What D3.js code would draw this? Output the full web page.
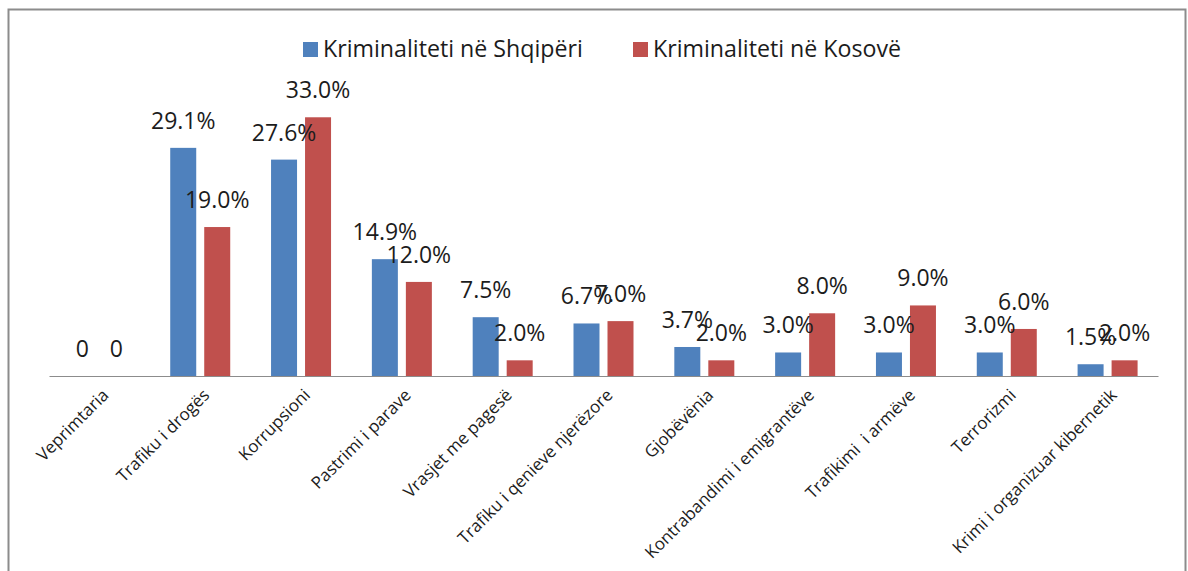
<!DOCTYPE html>
<html>
<head>
<meta charset="utf-8">
<script src="https://cdn.jsdelivr.net/npm/d3@7"></script>
<style>
  body { margin: 0; background: #fff; }
  svg { display: block; }
  text { font-family: "Open Sans", sans-serif; fill: #1c1c1c; white-space: pre; }
</style>
</head>
<body>
<svg id="chart" width="1188" height="571"></svg>
<script>
// Types of organised crime
const categories = [
  "Veprimtaria",
  "Trafiku i drogës",
  "Korrupsioni",
  "Pastrimi i parave",
  "Vrasjet me pagesë",
  "Trafiku i qenieve njerëzore",
  "Gjobëvënia",
  "Kontrabandimi i emigrantëve",
  "Trafikimi  i armëve",
  "Terrorizmi",
  "Krimi i organizuar kibernetik"
];
const seriesNames = ["Kriminaliteti në Shqipëri", "Kriminaliteti në Kosovë"];
// Share (%) per crime type
const albaniaValues = [0, 29.1, 27.6, 14.9, 7.5, 6.7, 3.7, 3.0, 3.0, 3.0, 1.5];
const kosovoValues  = [0, 19.0, 33.0, 12.0, 2.0, 7.0, 2.0, 8.0, 9.0, 6.0, 2.0];
const seriesColors = ["#4F81BD", "#C0504D"];
const yDomainMax = 35;

const svg = d3.select("#chart");
const plot = { left: 49, right: 1158, top: 101.6, bottom: 376 };

// outer frame
svg.append("rect")
  .attr("x", 8.5).attr("y", 9.5)
  .attr("width", 1177).attr("height", 620)
  .attr("fill", "#fff")
  .attr("stroke", "#8c8c8c")
  .attr("stroke-width", 2);

const rows = categories.map((c, i) => ({
  category: c,
  values: [albaniaValues[i], kosovoValues[i]]
}));

const x0 = d3.scaleBand().domain(categories).range([plot.left, plot.right]).padding(0);
const groupWidth = 60;
const x1 = d3.scaleBand().domain(d3.range(seriesNames.length))
  .range([0, groupWidth]).paddingInner(2 - groupWidth / 34).paddingOuter(0);
const y = d3.scaleLinear().domain([0, yDomainMax]).range([plot.bottom, plot.top]);
const groupOffset = (x0.bandwidth() - groupWidth) / 2;

const fmt = v => v === 0 ? "0" : d3.format(".1f")(v) + "%";

const groups = svg.append("g").selectAll("g")
  .data(rows).join("g")
  .attr("transform", d => `translate(${x0(d.category) + groupOffset},0)`);

groups.selectAll("rect")
  .data(d => d.values.map((v, s) => ({ v, s })))
  .join("rect")
  .attr("x", d => x1(d.s))
  .attr("width", x1.bandwidth())
  .attr("y", d => y(d.v))
  .attr("height", d => y(0) - y(d.v))
  .attr("fill", d => seriesColors[d.s]);

// category axis
const axis = svg.append("g")
  .attr("transform", `translate(0,${plot.bottom})`)
  .call(d3.axisBottom(x0).tickSize(0).tickSizeOuter(0));
axis.select(".domain").attr("stroke", "#8c8c8c").attr("stroke-width", 1.2);
axis.selectAll(".tick text")
  .attr("font-family", "Open Sans, sans-serif")
  .attr("font-size", 17)
  .attr("fill", "#1c1c1c")
  .attr("text-anchor", "end")
  .attr("y", 0).attr("dy", "0.35em")
  .attr("transform", "translate(6,16) rotate(-45)");

// value labels
groups.selectAll("text.val")
  .data(d => d.values.map((v, s) => ({ v, s })))
  .join("text")
  .attr("class", "val")
  .attr("x", d => x1(d.s) + x1.bandwidth() / 2)
  .attr("y", d => y(d.v) - 19)
  .attr("text-anchor", "middle")
  .attr("font-size", 23)
  .text(d => fmt(d.v));

// legend
const legendItems = [
  { name: seriesNames[0], color: seriesColors[0], x: 303 },
  { name: seriesNames[1], color: seriesColors[1], x: 633 }
];
const legend = svg.append("g").selectAll("g").data(legendItems).join("g")
  .attr("transform", d => `translate(${d.x},42)`);
legend.append("rect").attr("width", 15).attr("height", 15).attr("fill", d => d.color);
legend.append("text").attr("x", 20).attr("y", 14.5)
  .attr("font-size", 23.2).text(d => d.name);
</script>
</body>
</html>
